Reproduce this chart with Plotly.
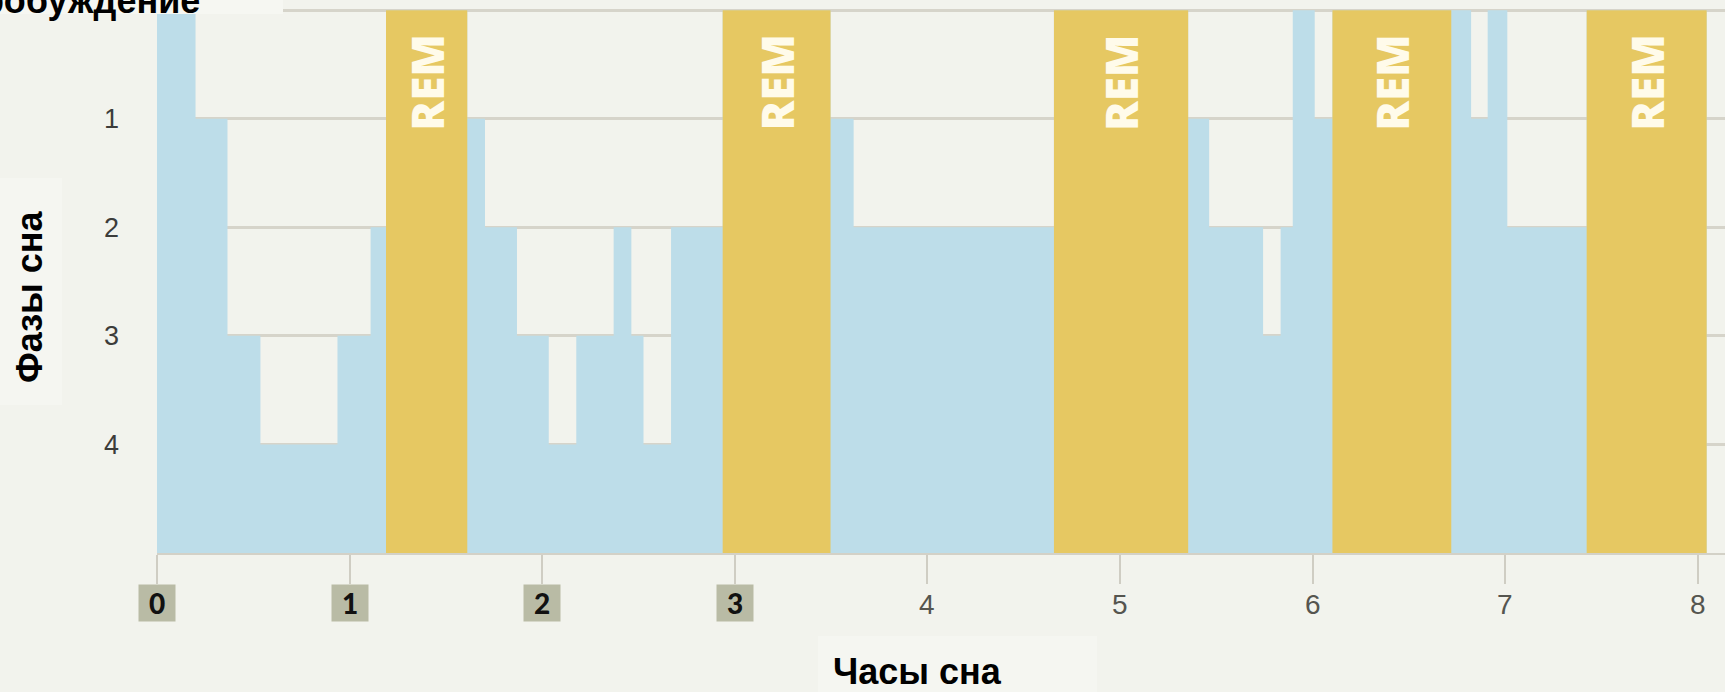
import plotly.graph_objects as go

# ---- data (hours of sleep, sleep stage per interval) ----
boundaries = [0.00, 0.20, 0.366, 0.537, 0.937, 1.109, 1.189, 1.611, 1.703, 1.869,
              2.034, 2.177, 2.371, 2.463, 2.526, 2.669, 2.937, 3.497, 3.617, 4.657,
              5.354, 5.463, 5.743, 5.834, 5.897, 6.011, 6.103, 6.72, 6.823, 6.909,
              7.011, 7.423, 8.046]
stages = [0, 1, 3, 4, 3, 2, "REM", 1, 2, 3, 4, 3, 2, 3, 4, 2, "REM", 1, 2, "REM",
          1, 2, 3, 2, 0, 1, "REM", 0, 1, 0, 2, "REM"]
x_ticks = [0, 1, 2, 3, 4, 5, 6, 7, 8]
x_ticktext = ["0", "1", "2", "3", "4", "5", "6", "7", "8"]
boxed_ticks = [0, 1, 2, 3]
y_ticks = [0, 1, 2, 3, 4]
y_ticktext = ["", "1", "2", "3", "4"]
awake_label = "Пробуждение"
x_title = "Часы сна"
y_title = "Фазы сна"
rem_label = "REM"
bottom_level = 5

BG = "#f2f3ed"
BLUE = "#bddde9"
GOLD = "#e6c862"
GRID = "#d6d4ca"

# geometry helpers (pixel layout)
W, H = 1725, 692
ML, MR, MT, MB = 157, 0, 8, 139
PW = W - ML - MR
PH = H - MT - MB


def px_to_paper_x(px):
    return (px - ML) / PW


def py_to_paper_y(py):
    return (H - MB - py) / PH


# step outline for non-REM stages (REM intervals are covered by gold fill)
blue_levels = [0 if s == "REM" else s for s in stages]
blue_y = blue_levels + [blue_levels[-1]]
gold_levels = [0 if s == "REM" else bottom_level for s in stages]
gold_y = gold_levels + [gold_levels[-1]]
base_y = [bottom_level] * len(boundaries)

rem_x = [(a + b) / 2 for a, b, s in zip(boundaries[:-1], boundaries[1:], stages)
         if s == "REM"]

fig = go.Figure()
fig.add_trace(go.Scatter(x=boundaries, y=base_y, mode="lines",
                         line=dict(width=0, color=BLUE),
                         hoverinfo="skip", showlegend=False))
fig.add_trace(go.Scatter(x=boundaries, y=blue_y, mode="lines",
                         line=dict(width=0, color=BLUE, shape="hv"),
                         fill="tonexty", fillcolor=BLUE,
                         hoverinfo="skip", showlegend=False))
fig.add_trace(go.Scatter(x=boundaries, y=base_y, mode="lines",
                         line=dict(width=0, color=GOLD),
                         hoverinfo="skip", showlegend=False))
fig.add_trace(go.Scatter(x=boundaries, y=gold_y, mode="lines",
                         line=dict(width=0, color=GOLD, shape="hv"),
                         fill="tonexty", fillcolor=GOLD,
                         hoverinfo="skip", showlegend=False))

annotations = []
# REM labels
for cx in rem_x:
    annotations.append(dict(x=cx, xref="x", y=py_to_paper_y(83), yref="paper",
                            text=rem_label, showarrow=False, textangle=-90,
                            font=dict(family="Open Sans", size=44, color="#fffbea",
                                      weight=800),
                            xanchor="center", yanchor="middle"))
# x tick labels
for v, t in zip(x_ticks, x_ticktext):
    if v in boxed_ticks:
        annotations.append(dict(x=v, xref="x", y=py_to_paper_y(603), yref="paper",
                                text=t, showarrow=False, width=34, height=34,
                                bgcolor="#b9bba5", valign="middle",
                                font=dict(family="Lato", size=28, color="#111",
                                          weight=900),
                                xanchor="center", yanchor="middle"))
    else:
        annotations.append(dict(x=v, xref="x", y=py_to_paper_y(604), yref="paper",
                                text=t, showarrow=False,
                                font=dict(family="Liberation Sans Narrow, Liberation Sans",
                                          size=28, color="#55554f"),
                                xanchor="center", yanchor="middle"))
# titles
annotations.append(dict(x=px_to_paper_x(917), xref="paper", y=py_to_paper_y(671),
                        yref="paper", text=x_title, showarrow=False,
                        font=dict(family="Liberation Sans", size=36, color="#000",
                                  weight=700),
                        xanchor="center", yanchor="middle"))
annotations.append(dict(x=px_to_paper_x(29), xref="paper", y=py_to_paper_y(297),
                        yref="paper", text=y_title, showarrow=False, textangle=-90,
                        font=dict(family="Liberation Sans", size=36, color="#000",
                                  weight=700),
                        xanchor="center", yanchor="middle"))
annotations.append(dict(x=px_to_paper_x(202), xref="paper", y=py_to_paper_y(0),
                        yref="paper", text=awake_label, showarrow=False,
                        font=dict(family="Liberation Sans", size=36, color="#000",
                                  weight=700),
                        xanchor="right", yanchor="middle"))

shapes = [
    dict(type="rect", xref="paper", yref="paper", layer="above",
         x0=px_to_paper_x(0), x1=px_to_paper_x(283),
         y0=py_to_paper_y(14), y1=py_to_paper_y(-2),
         fillcolor="#f6f7f2", line=dict(width=0)),
    dict(type="rect", xref="paper", yref="paper", layer="below",
         x0=px_to_paper_x(0), x1=px_to_paper_x(62),
         y0=py_to_paper_y(405), y1=py_to_paper_y(178),
         fillcolor="#f5f6f1", line=dict(width=0)),
    dict(type="rect", xref="paper", yref="paper", layer="below",
         x0=px_to_paper_x(818), x1=px_to_paper_x(1097),
         y0=py_to_paper_y(694), y1=py_to_paper_y(636),
         fillcolor="#f5f6f1", line=dict(width=0)),
]

fig.update_layout(
    width=W, height=H, autosize=False,
    margin=dict(l=ML, r=MR, t=MT, b=MB, pad=0),
    paper_bgcolor=BG, plot_bgcolor=BG,
    annotations=annotations,
    shapes=shapes,
    xaxis=dict(range=[0, PW / 192.6], showgrid=False, zeroline=False,
               showline=True, linecolor="#d3d1c7", linewidth=2,
               tickvals=x_ticks, ticks="outside", ticklen=29, tickwidth=1.5,
               tickcolor="#cfcdc3", showticklabels=False, fixedrange=True),
    yaxis=dict(range=[bottom_level, -0.02], tickvals=y_ticks, ticktext=y_ticktext,
               showgrid=True, gridcolor=GRID, gridwidth=2.5, zeroline=False,
               showline=False, ticks="", ticklabelstandoff=37,
               tickfont=dict(family="Liberation Sans", size=27, color="#3c3c3a"),
               fixedrange=True),
)

fig.write_html(
    "out.html",
    config={"displayModeBar": False},
    post_script="document.body.style.margin='0';"
                "document.body.style.background='" + BG + "';"
                "document.body.style.overflow='hidden';",
)
